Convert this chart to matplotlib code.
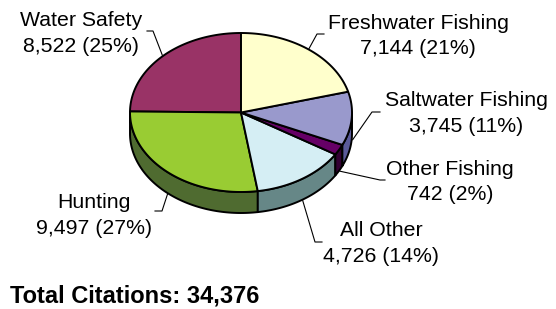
import numpy as np
import matplotlib.pyplot as plt
from matplotlib.patches import Polygon

plt.rcParams['font.family'] = ['Liberation Sans', 'DejaVu Sans']

# data
categories = ['Water Safety', 'Hunting', 'All Other', 'Other Fishing',
              'Saltwater Fishing', 'Freshwater Fishing']
citations = [8522, 9497, 4726, 742, 3745, 7144]
percents = [25, 27, 14, 2, 11, 21]  # as printed on the chart
top_colors = ['#993366', '#99CC33', '#D5EEF4', '#660066', '#9999CC', '#FFFFCC']
side_colors = ['#4C1933', '#4F6B30', '#668787', '#330033', '#5A5A99', '#80806A']

total = sum(citations)

# pie geometry in pixels (figure is 556x309 px)
cx, cy = 241, 112.5
rx, ry = 111, 79.5
depth = 21

fig = plt.figure(figsize=(5.56, 3.09), dpi=100)
ax = fig.add_axes([0, 0, 1, 1])
ax.set_xlim(0, 556)
ax.set_ylim(309, 0)
ax.axis('off')


def ellipse_pts(a0, a1, dy=0.0, n=80):
    t = np.radians(np.linspace(a0, a1, n))
    return np.column_stack([cx + rx * np.cos(t), cy - ry * np.sin(t) + dy])


angles = 90 + np.concatenate([[0], np.cumsum(citations)]) / total * 360

# side walls (front half only: 180..360 deg)
for i in range(len(citations)):
    a0, a1 = angles[i], angles[i + 1]
    for lo, hi in [(180, 360), (540, 720)]:
        s0, s1 = max(a0, lo), min(a1, hi)
        if s1 > s0:
            top = ellipse_pts(s0, s1)
            bot = ellipse_pts(s1, s0, dy=depth)
            ax.add_patch(Polygon(np.vstack([top, bot]), closed=True,
                                 facecolor=side_colors[i], edgecolor='black',
                                 linewidth=1.4, joinstyle='round'))

# top faces
for i in range(len(citations)):
    arc = ellipse_pts(angles[i], angles[i + 1])
    ax.add_patch(Polygon(np.vstack([[cx, cy], arc]), closed=True,
                         facecolor=top_colors[i], edgecolor='black',
                         linewidth=1.4, joinstyle='round'))

# labels: text centre x, baseline of first line, leader elbow and end
label_x = [81, 94, 381, 450, 466, 418]
label_y = [26.5, 208, 236.5, 175, 106.5, 29]
elbow = [(153, 31), (162, 211), (315, 242), (380, 180), (372, 112), (317, 34)]
leader_end = [(147, 31), (155, 211), (322, 242), (385, 180), (380, 112), (324, 34)]
line_gap = 25.5

for i, name in enumerate(categories):
    ax.text(label_x[i], label_y[i], name, ha='center', va='baseline',
            fontsize=15.3, color='black')
    ax.text(label_x[i], label_y[i] + line_gap,
            f'{citations[i]:,} ({percents[i]}%)', ha='center', va='baseline',
            fontsize=15.3, color='black')
    mid = np.radians((angles[i] + angles[i + 1]) / 2)
    px = cx + (rx + 1) * np.cos(mid)
    py = cy - (ry + 1) * np.sin(mid)
    if np.sin(mid) < 0:
        py += depth
    ax.plot([px, elbow[i][0], leader_end[i][0]],
            [py, elbow[i][1], leader_end[i][1]],
            color='black', linewidth=0.8)

ax.text(10, 302, f'Total Citations: {total:,}', ha='left', va='baseline',
        fontsize=17, fontweight='bold', color='black')

fig.savefig('out.png', dpi=100)
